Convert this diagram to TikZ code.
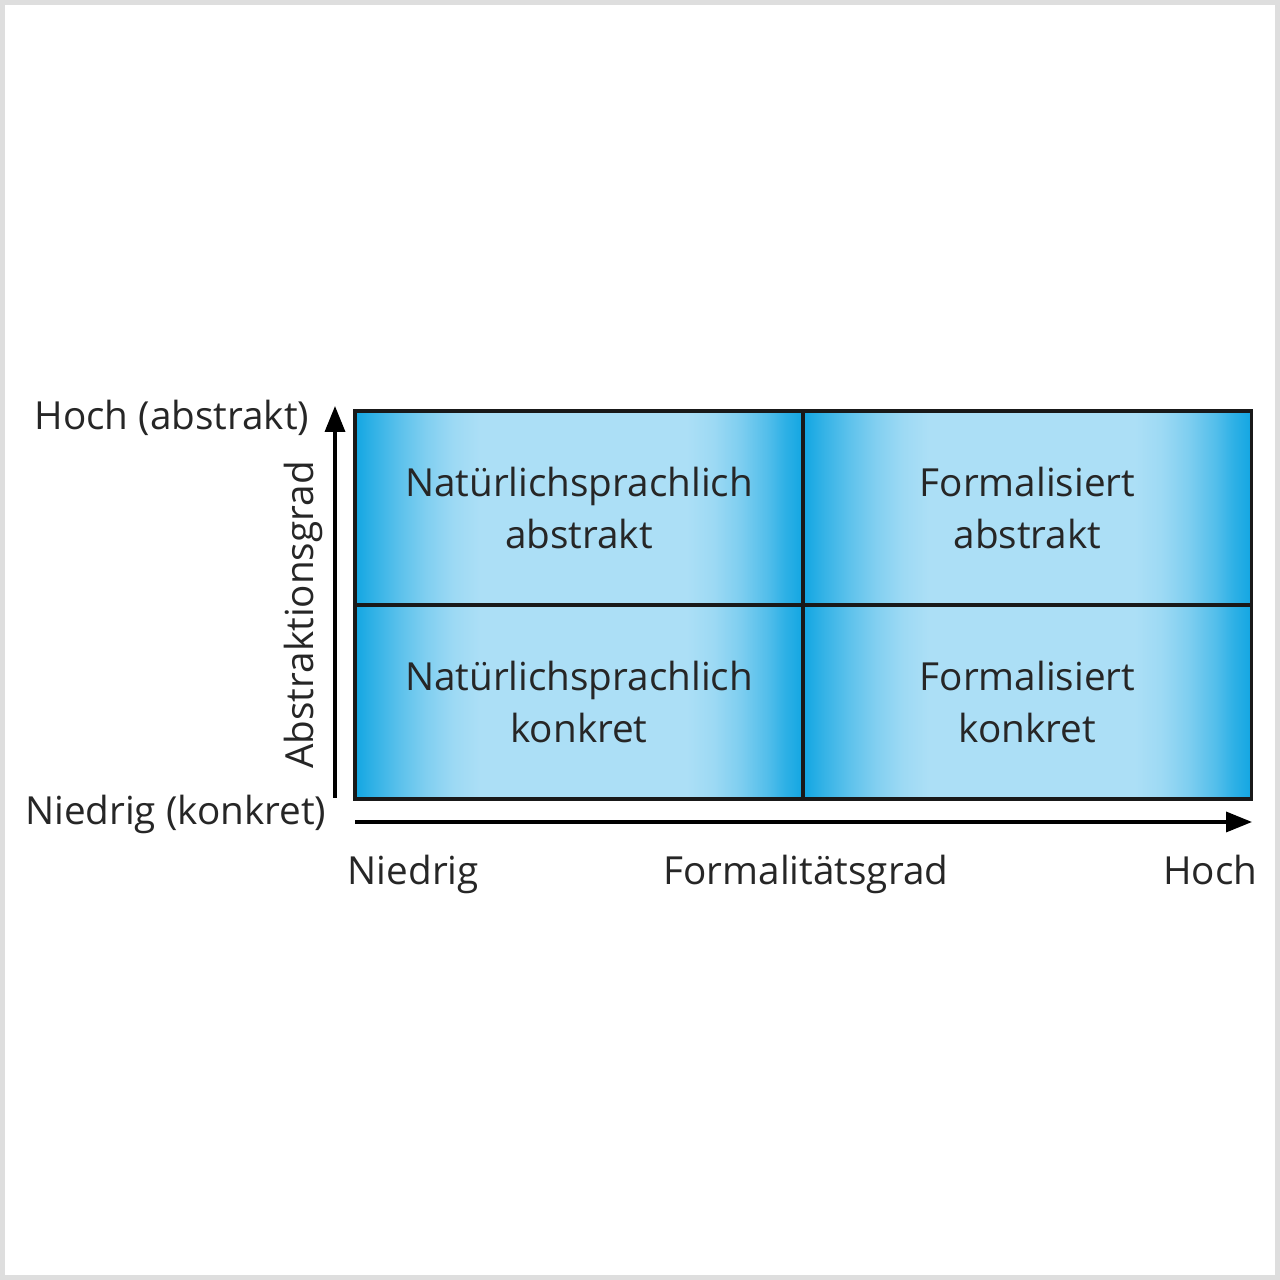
\documentclass[tikz,border=0pt]{standalone}
\usepackage{fontspec}
\setmainfont{Open Sans}
\usepackage{tikz}
\usetikzlibrary{arrows.meta}

\definecolor{celldark}{RGB}{18,166,226}
\definecolor{celllight}{RGB}{172,223,246}
\definecolor{framegray}{RGB}{222,222,222}

\pgfdeclarehorizontalshading{cellshade}{100bp}{
  color(0bp)=(celldark); color(25bp)=(celldark);
  color(27bp)=(celldark!80!celllight); color(30bp)=(celldark!52!celllight);
  color(33bp)=(celldark!28!celllight); color(36bp)=(celldark!10!celllight);
  color(39bp)=(celllight); color(62bp)=(celllight);
  color(65bp)=(celldark!10!celllight); color(68bp)=(celldark!30!celllight);
  color(71bp)=(celldark!58!celllight); color(73bp)=(celldark!82!celllight);
  color(75bp)=(celldark); color(100bp)=(celldark)}

\tikzset{
  cell/.style={draw=black!90, line width=1pt, shading=cellshade,
    minimum width=4.48cm, minimum height=1.94cm, inner sep=0pt,
    align=center, font=\fontsize{11}{15}\selectfont, text=black!85},
  axislabel/.style={font=\fontsize{11}{15}\selectfont, text=black!85, inner sep=0pt},
  axisarrow/.style={line width=1pt, -{Triangle[width=0.2cm,length=0.26cm]}}
}

\begin{document}
\begin{tikzpicture}
    \useasboundingbox (0, 0) rectangle (12.8, 12.8);
    % frame
    \draw[framegray, line width=0.05cm] (0.025, 0.025) rectangle (12.775, 12.775);

    % the four cells
    \node[cell](natabs) at (5.79, 7.72){Natürlichsprachlich\\abstrakt};
    \node[cell](forabs) at (10.275, 7.72){Formalisiert\\abstrakt};
    \node[cell](natkon) at (5.79, 5.78){Natürlichsprachlich\\konkret};
    \node[cell](forkon) at (10.275, 5.78){Formalisiert\\konkret};

    % y axis
    \coordinate (ybot) at (3.35, 4.82);
    \coordinate (ytop) at (3.35, 8.74);
    \draw[axisarrow] (ybot) -- (ytop);
    \node[axislabel, anchor=base east](yhigh) at (3.10, 8.50){Hoch (abstrakt)};
    \node[axislabel, anchor=base east](ylow) at (3.27, 4.55){Niedrig (konkret)};
    \node[axislabel, rotate=90](ytitle) at (3.03, 6.65){Abstraktionsgrad};

    % x axis
    \coordinate (xleft) at (3.55, 4.58);
    \coordinate (xright) at (12.52, 4.58);
    \draw[axisarrow] (xleft) -- (xright);
    \node[axislabel, anchor=base west](xlow) at (3.47, 3.95){Niedrig};
    \node[axislabel, anchor=base](xtitle) at (8.06, 3.95){Formalitätsgrad};
    \node[axislabel, anchor=base east](xhigh) at (12.58, 3.95){Hoch};
\end{tikzpicture}
\end{document}
